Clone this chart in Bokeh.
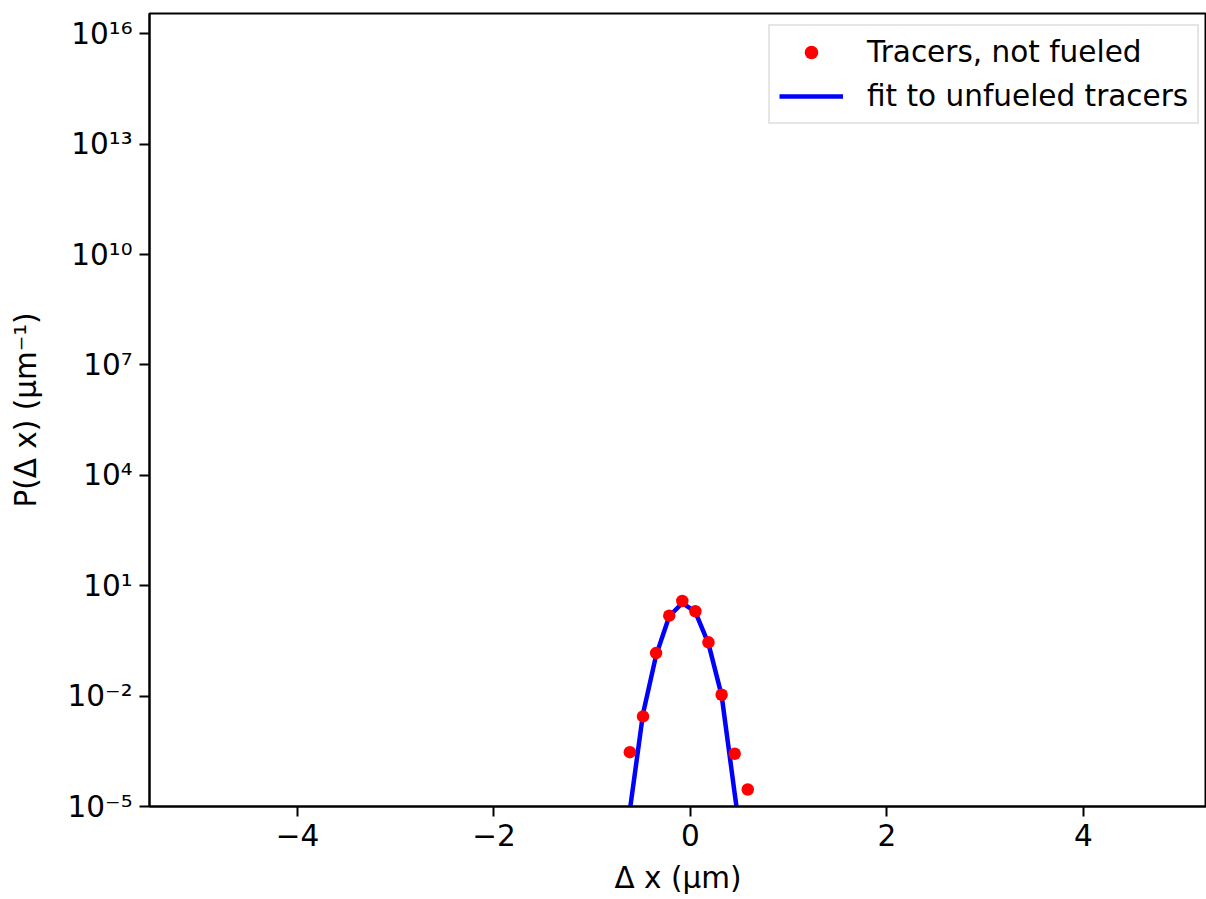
from bokeh.plotting import figure
from bokeh.models import FixedTicker, Range1d
from bokeh.embed import file_html
from bokeh.resources import INLINE

# Data
dx = [-0.617, -0.483, -0.350, -0.216, -0.083, 0.050, 0.183, 0.317, 0.450, 0.583]
p_tracers = [3.0e-4, 2.81e-3, 0.148, 1.54, 3.85, 2.02, 0.289, 0.0109, 2.72e-4, 2.90e-5]
p_fit = [7.9e-6, 3.33e-3, 0.128, 1.48, 3.40, 1.93, 0.267, 0.0105, 2.24e-5, 5.8e-8]

x_ticks = [-4, -2, 0, 2, 4]
y_exponents = [-5, -2, 1, 4, 7, 10, 13, 16]
y_tick_labels = ["10⁻⁵", "10⁻²", "10¹", "10⁴", "10⁷", "10¹⁰", "10¹³", "10¹⁶"]

FONT = "DejaVu Sans"
FS = "29.5px"

p = figure(width=1206, height=899, y_axis_type="log",
           x_range=Range1d(-5.506, 5.252), y_range=Range1d(1e-5, 10**16.552),
           output_backend="svg", toolbar_location=None,
           min_border_left=149, min_border_right=0, min_border_top=13, min_border_bottom=93)

p.line(dx, p_fit, line_width=4.5, color="#0000ff", line_join="round",
       legend_label="fit to unfueled tracers")
p.scatter(dx, p_tracers, size=12.5, color="#ff0000", line_color=None,
          legend_label="Tracers, not fueled")

p.grid.visible = False
p.outline_line_color = "black"
p.outline_line_width = 2
p.background_fill_color = "white"
p.border_fill_color = "white"

yticks = [float(f"1e{k}") for k in y_exponents]
p.yaxis.ticker = FixedTicker(ticks=yticks)
p.yaxis.major_label_overrides = {t: lab for t, lab in zip(yticks, y_tick_labels)}
p.xaxis.ticker = FixedTicker(ticks=x_ticks)
p.xaxis.major_label_overrides = {t: ("−" + str(abs(t)) if t < 0 else str(t)) for t in x_ticks}

for ax in (p.xaxis, p.yaxis):
    ax.axis_line_width = 2
    ax.axis_line_color = "black"
    ax.major_tick_line_width = 2
    ax.major_tick_line_color = "black"
    ax.major_tick_out = 10
    ax.major_tick_in = 0
    ax.minor_tick_line_color = None
    ax.major_label_text_font = FONT
    ax.major_label_text_font_size = FS
    ax.major_label_text_color = "black"
    ax.axis_label_text_font = FONT
    ax.axis_label_text_font_size = FS
    ax.axis_label_text_font_style = "normal"
    ax.axis_label_text_color = "black"
    ax.major_label_standoff = 7

p.xaxis.axis_label = "Δ x (μm)"
p.yaxis.axis_label = "P(Δ x) (μm⁻¹)"
p.xaxis.axis_label_standoff = 12
p.yaxis.axis_label_standoff = 22

leg = p.legend[0]
leg.location = (619, 682)
leg.margin = 0
leg.padding = 9
leg.spacing = 10
leg.glyph_width = 64
leg.glyph_height = 34
leg.label_height = 34
leg.label_standoff = 24
leg.label_text_font = FONT
leg.label_text_font_size = FS
leg.label_text_color = "black"
leg.border_line_color = "#cccccc"
leg.border_line_width = 2
leg.background_fill_alpha = 0.8
leg.items = list(reversed(leg.items))

open("out.html", "w").write(file_html(p, INLINE))
